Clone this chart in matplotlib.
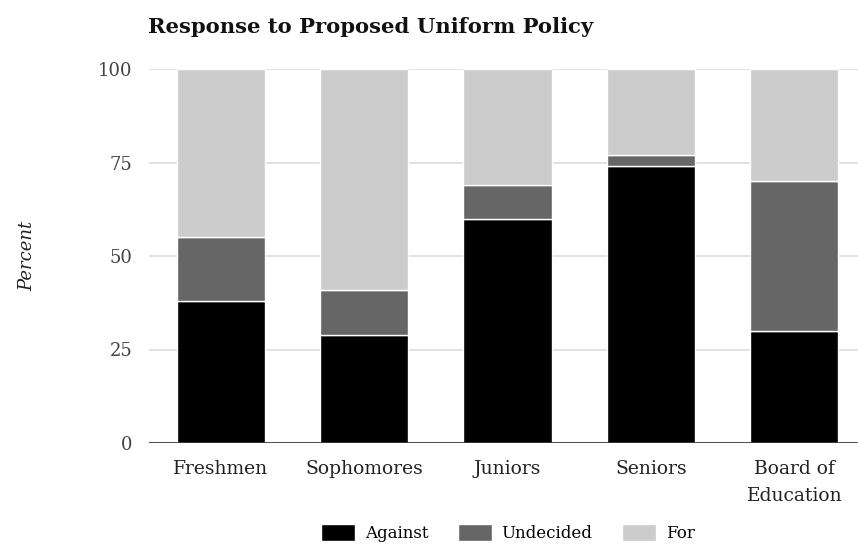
import numpy as np
import matplotlib.pyplot as plt

groups = ["Freshmen", "Sophomores", "Juniors", "Seniors", "Board of\nEducation"]
against = [38, 29, 60, 74, 30]
undecided = [17, 12, 9, 3, 40]
in_favor = [45, 59, 31, 23, 30]

series_names = ["Against", "Undecided", "For"]
series_colors = ["#000000", "#666666", "#cccccc"]

plt.rcParams["font.family"] = ["DejaVu Serif"]

fig = plt.figure(figsize=(8.58, 5.44), dpi=100)
# plot area runs slightly past the right edge, as in the original
ax = fig.add_axes([149 / 858, (544 - 443) / 544, 717 / 858, 374 / 544])

x = np.arange(len(groups))
bottom = np.zeros(len(groups))
for name, vals, col in zip(series_names, [against, undecided, in_favor], series_colors):
    ax.bar(x, vals, width=0.615, bottom=bottom, color=col, edgecolor="white",
           linewidth=1.0, label=name, zorder=2)
    bottom += np.array(vals)

ax.set_xlim(-0.5, len(groups) - 0.5)
ax.set_ylim(0, 100)
ax.set_yticks([0, 25, 50, 75, 100])
ax.grid(axis="y", color="#dddddd", linewidth=1.2, zorder=0)
ax.axhline(0, color="#333333", linewidth=1.2, zorder=3)
for s in ax.spines.values():
    s.set_visible(False)
ax.tick_params(axis="both", length=0, colors="#222222")
ax.tick_params(axis="y", pad=12, labelsize=13, colors="#444444")
ax.tick_params(axis="x", pad=12, labelsize=13.5)
ax.set_xticks(x)
ax.set_xticklabels(groups, linespacing=1.7)

ax.set_ylabel("Percent", fontstyle="italic", fontsize=13, color="#222222", labelpad=44)

fig.text(148 / 858, 1 - 27 / 544, "Response to Proposed Uniform Policy",
         fontsize=15.2, fontweight="bold", va="center", ha="left", color="#111111")

fig.legend(loc="center", bbox_to_anchor=(508 / 858, 1 - 533 / 544), ncol=3,
           frameon=False, fontsize=12, handlelength=2.0, handleheight=1.2,
           columnspacing=1.8, handletextpad=0.6)

fig.savefig("out.png", dpi=100)
